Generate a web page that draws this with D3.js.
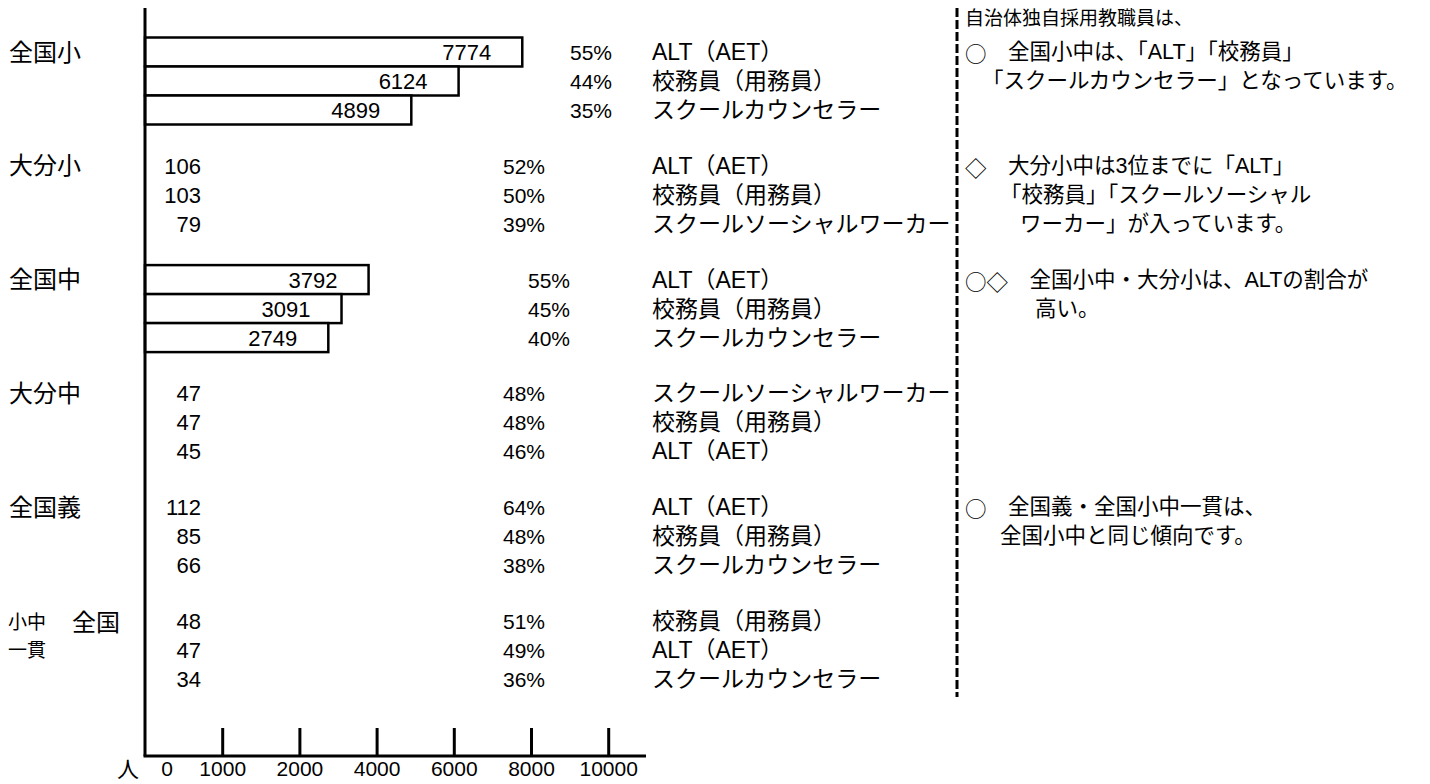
<!DOCTYPE html>
<html>
<head>
<meta charset="utf-8">
<script src="https://cdn.jsdelivr.net/npm/d3@7"></script>
<style>
    body { margin: 0; background: #fff; }
    text { font-family: "Liberation Sans", "Noto Sans CJK JP", sans-serif; fill: #000; }
    .sym { font-family: "Noto Sans CJK JP", sans-serif; }
</style>
</head>
<body>
<svg id="chart"></svg>
<script>
// --- data ---
const groups = ["全国小", "大分小", "全国中", "大分中", "全国義", "全国小中一貫"];
const counts = [
    [7774, 6124, 4899],
    [106, 103, 79],
    [3792, 3091, 2749],
    [47, 47, 45],
    [112, 85, 66],
    [48, 47, 34]
];
const shares = [
    [55, 44, 35],
    [52, 50, 39],
    [55, 45, 40],
    [48, 48, 46],
    [64, 48, 38],
    [51, 49, 36]
];
const jobs = [
    ["ALT（AET）", "校務員（用務員）", "スクールカウンセラー"],
    ["ALT（AET）", "校務員（用務員）", "スクールソーシャルワーカー"],
    ["ALT（AET）", "校務員（用務員）", "スクールカウンセラー"],
    ["スクールソーシャルワーカー", "校務員（用務員）", "ALT（AET）"],
    ["ALT（AET）", "校務員（用務員）", "スクールカウンセラー"],
    ["校務員（用務員）", "ALT（AET）", "スクールカウンセラー"]
];
// only the national elementary / junior high rows are drawn as bars
const barGroups = ["全国小", "全国中"];
const scaleStops = [0, 1000, 2000, 4000, 6000, 8000, 10000];
const axisTicks = [1000, 2000, 4000, 6000, 8000, 10000];
const notes = [
    "自治体独自採用教職員は、",
    "○　全国小中は、「ALT」「校務員」",
    "「スクールカウンセラー」となっています。",
    "◇　大分小中は3位までに「ALT」",
    "「校務員」「スクールソーシャル",
    "ワーカー」が入っています。",
    "○◇　全国小中・大分小は、ALTの割合が",
    "高い。",
    "○　全国義・全国小中一貫は、",
    "全国小中と同じ傾向です。"
];

// --- layout ---
const width = 1430
const height = 784
const axisX = 145
const axisY = 756
const tickStep = 77.2
const rowStep = 29
const pctX = [570, 503, 528, 503, 503, 503] // percent column per group
const valueRight = 201                      // right edge of plain numbers
const jobX = 652
const dashX = 957
// note placement: [x, group index, row offset, font size]
const noteLayout = [
    [965, 0, -1.17, 19], [965, 0, 0, 21.5], [982, 0, 1, 21.5],
    [965, 1, 0, 21.5], [1000, 1, 1, 21.5], [1020, 1, 2, 21.5],
    [965, 2, 0, 21.5], [1035, 2, 1, 21.5],
    [965, 4, 0, 21.5], [1000, 4, 1, 21.5]
]

const svg = d3.select("#chart")
    .attr("width", width)
    .attr("height", height)

// axis ticks are evenly spaced although labels jump 1000 -> 2000 -> 4000
const x = d3.scaleLinear()
    .domain(scaleStops)
    .range(scaleStops.map((d, i) => axisX + i * tickStep))

const groupY = d3.scaleLinear()
    .domain([0, groups.length - 1])
    .range([52, 621])

const rowY = (g, r) => groupY(g) + r * rowStep

// bars
groups.forEach((g, gi) => {
    if (!barGroups.includes(g)) return;
    svg.append("g")
        .selectAll("rect")
        .data(counts[gi])
        .join("rect")
        .attr("x", axisX)
        .attr("y", (d, i) => rowY(gi, i) - rowStep / 2)
        .attr("width", d => x(d) - axisX)
        .attr("height", rowStep)
        .attr("fill", "#fff")
        .attr("stroke", "#000")
        .attr("stroke-width", 2.5)
})

// rows: value, share, job title
groups.forEach((g, gi) => {
    const isBar = barGroups.includes(g)
    const rows = svg.append("g")
        .selectAll("g")
        .data(counts[gi].map((c, i) => ({ c, s: shares[gi][i], j: jobs[gi][i], i })))
        .join("g")
        .attr("transform", d => `translate(0, ${rowY(gi, d.i)})`)

    rows.append("text")
        .attr("x", d => isBar ? x(d.c) - 31 : valueRight)
        .attr("y", 8)
        .attr("text-anchor", "end")
        .style("font-size", "22px")
        .text(d => d.c)

    rows.append("text")
        .attr("x", pctX[gi])
        .attr("y", 8)
        .style("font-size", "21px")
        .text(d => d.s + "%")

    rows.append("text")
        .attr("x", jobX)
        .attr("dominant-baseline", "central")
        .style("font-size", "23px")
        .text(d => d.j)
})

// group labels
groups.forEach((g, gi) => {
    if (g.length <= 3) {
        svg.append("text")
            .attr("x", 9)
            .attr("y", groupY(gi))
            .attr("dominant-baseline", "central")
            .style("font-size", "24px")
            .text(g)
    } else {
        // 全国小中一貫 is laid out as "小中 全国 / 一貫"
        svg.append("text").attr("x", 8).attr("y", groupY(gi) + 1)
            .attr("dominant-baseline", "central").style("font-size", "19px").text(g.slice(2, 4))
        svg.append("text").attr("x", 72).attr("y", groupY(gi) + 1)
            .attr("dominant-baseline", "central").style("font-size", "24px").text(g.slice(0, 2))
        svg.append("text").attr("x", 8).attr("y", groupY(gi) + rowStep)
            .attr("dominant-baseline", "central").style("font-size", "19px").text(g.slice(4))
    }
})

// axes
svg.append("line")
    .attr("x1", axisX).attr("x2", axisX)
    .attr("y1", 8).attr("y2", axisY)
    .attr("stroke", "#000").attr("stroke-width", 3)

const xAxis = d3.axisBottom(x)
    .tickValues(axisTicks)
    .tickSize(-28)
    .tickSizeOuter(0)
    .tickPadding(5)
    .tickFormat(d3.format("d"))

const axisG = svg.append("g")
    .attr("transform", `translate(0, ${axisY})`)
    .call(xAxis)
axisG.select(".domain").remove()
axisG.selectAll(".tick line").attr("stroke", "#000").attr("stroke-width", 3)
axisG.selectAll(".tick text")
    .attr("fill", "#000")
    .style("font-size", "21px")
    .style("font-family", "\"Liberation Sans\", sans-serif")

axisG.append("line")
    .attr("x1", axisX - 1.5).attr("x2", 646)
    .attr("stroke", "#000").attr("stroke-width", 3)

// "0" sits a little right of the axis, with the unit in front
axisG.append("text")
    .attr("x", 167).attr("y", 5).attr("dy", "0.71em")
    .attr("text-anchor", "middle")
    .style("font-size", "21px")
    .text(0)
axisG.append("text")
    .attr("x", 128).attr("y", 5).attr("dy", "0.71em")
    .attr("text-anchor", "middle")
    .style("font-size", "22px")
    .text("人")

// dashed divider and comments
svg.append("line")
    .attr("x1", dashX).attr("x2", dashX)
    .attr("y1", 8).attr("y2", 697)
    .attr("stroke", "#000").attr("stroke-width", 3)
    .attr("stroke-dasharray", "9,3")

const noteText = svg.append("g")
    .selectAll("text")
    .data(notes)
    .join("text")
    .attr("x", (d, i) => noteLayout[i][0])
    .attr("y", (d, i) => rowY(noteLayout[i][1], noteLayout[i][2]))
    .attr("dominant-baseline", "central")
    .style("font-size", (d, i) => noteLayout[i][3] + "px")

// the ○ / ◇ bullets need the full-width CJK glyphs
noteText.each(function (d) {
    const m = d.match(/^([○◇]+)(.*)$/)
    const t = d3.select(this)
    if (m) {
        t.append("tspan").attr("class", "sym").text(m[1])
        t.append("tspan").text(m[2])
    } else {
        t.text(d)
    }
})
</script>
</body>
</html>
